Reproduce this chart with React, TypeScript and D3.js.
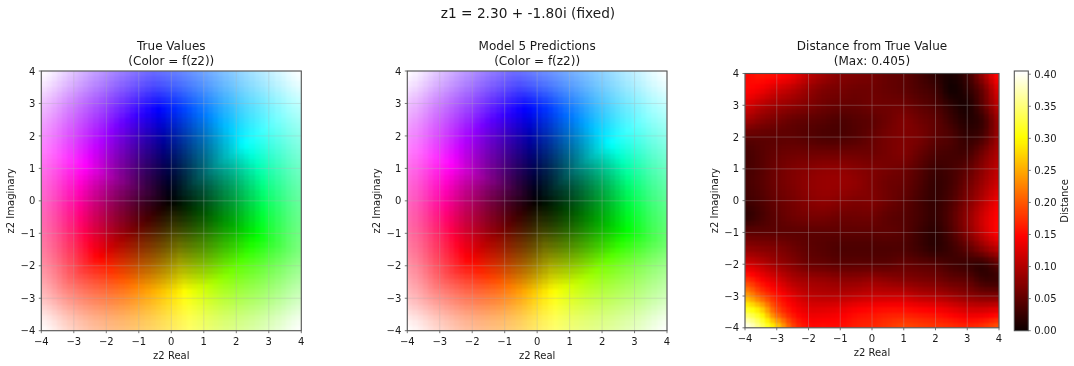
import { useMemo } from "react";
import * as d3 from "d3";

const width = 1074;
const height = 366;

const suptitle = "z1 = 2.30 + -1.80i (fixed)";
const axisTicks = [-4, -3, -2, -1, 0, 1, 2, 3, 4];
const colorbarTicks = [0, 0.05, 0.1, 0.15, 0.2, 0.25, 0.3, 0.35, 0.4];
const distanceMax = 0.405;

// hue in degrees, lightness 0-1, read at integer z2 points. rows y=4..-4, cols x=-4..4
const trueHue = [
  [277, 269, 259, 246, 232, 218, 205, 195, 187],
  [285, 277, 266, 250, 232, 214, 198, 187, 179],
  [295, 288, 277, 259, 232, 205, 187, 176, 169],
  [308, 304, 295, 277, 232, 187, 169, 160, 156],
  [322, 322, 322, 322, 232, 142, 142, 142, 142],
  [336, 340, 349, 7, 52, 97, 115, 124, 128],
  [349, 356, 7, 25, 52, 79, 97, 108, 115],
  [359, 7, 18, 34, 52, 70, 86, 97, 105],
  [7, 15, 25, 38, 52, 66, 79, 89, 97],
];
const trueLight = [
  [1.0, 0.88, 0.78, 0.72, 0.7, 0.72, 0.78, 0.88, 1.0],
  [0.88, 0.75, 0.64, 0.56, 0.53, 0.56, 0.64, 0.75, 0.88],
  [0.78, 0.64, 0.5, 0.38, 0.33, 0.38, 0.5, 0.64, 0.78],
  [0.72, 0.56, 0.38, 0.23, 0.15, 0.23, 0.38, 0.56, 0.72],
  [0.7, 0.53, 0.33, 0.15, 0.0, 0.15, 0.33, 0.53, 0.7],
  [0.72, 0.56, 0.38, 0.23, 0.15, 0.23, 0.38, 0.56, 0.72],
  [0.78, 0.64, 0.5, 0.38, 0.33, 0.38, 0.5, 0.64, 0.78],
  [0.88, 0.75, 0.64, 0.56, 0.53, 0.56, 0.64, 0.75, 0.88],
  [1.0, 0.88, 0.78, 0.72, 0.7, 0.72, 0.78, 0.88, 1.0],
];
const predHue = [
  [276, 268, 258, 245, 230, 216, 204, 194, 186],
  [284, 276, 265, 250, 233, 215, 199, 187, 180],
  [295, 288, 277, 260, 233, 206, 187, 176, 170],
  [309, 305, 296, 278, 233, 186, 166, 158, 155],
  [324, 323, 325, 326, 232, 139, 136, 138, 140],
  [338, 342, 350, 4, 50, 95, 112, 120, 125],
  [349, 355, 3, 19, 49, 74, 91, 101, 110],
  [357, 4, 13, 28, 50, 68, 81, 90, 100],
  [5, 12, 22, 35, 52, 66, 76, 84, 95],
];
const predLight = [
  [1.0, 0.88, 0.78, 0.72, 0.71, 0.73, 0.78, 0.88, 1.0],
  [0.88, 0.75, 0.64, 0.56, 0.53, 0.57, 0.65, 0.76, 0.89],
  [0.78, 0.64, 0.49, 0.38, 0.34, 0.39, 0.5, 0.64, 0.78],
  [0.72, 0.56, 0.38, 0.24, 0.16, 0.22, 0.37, 0.55, 0.71],
  [0.7, 0.53, 0.34, 0.16, 0.0, 0.14, 0.32, 0.52, 0.68],
  [0.72, 0.57, 0.39, 0.24, 0.14, 0.22, 0.37, 0.54, 0.69],
  [0.79, 0.65, 0.51, 0.39, 0.32, 0.38, 0.5, 0.64, 0.77],
  [0.88, 0.77, 0.66, 0.58, 0.53, 0.57, 0.65, 0.75, 0.87],
  [1.0, 0.9, 0.8, 0.74, 0.71, 0.74, 0.79, 0.88, 1.0],
];

// distance read at half-unit steps. rows y=4..-4, cols x=-4..4
const distance = [
  [0.15, 0.16, 0.155, 0.14, 0.11, 0.09, 0.075, 0.07, 0.065, 0.055, 0.05, 0.035, 0.02, 0.01, 0.03, 0.09, 0.155],
  [0.15, 0.14, 0.12, 0.105, 0.085, 0.07, 0.065, 0.06, 0.06, 0.055, 0.05, 0.04, 0.03, 0.005, 0.02, 0.06, 0.13],
  [0.125, 0.105, 0.09, 0.08, 0.07, 0.06, 0.055, 0.055, 0.06, 0.06, 0.06, 0.05, 0.04, 0.02, 0.01, 0.05, 0.11],
  [0.09, 0.075, 0.065, 0.055, 0.05, 0.045, 0.04, 0.045, 0.05, 0.06, 0.07, 0.06, 0.05, 0.03, 0.015, 0.03, 0.09],
  [0.05, 0.05, 0.05, 0.05, 0.045, 0.04, 0.04, 0.045, 0.055, 0.065, 0.07, 0.065, 0.05, 0.04, 0.025, 0.04, 0.09],
  [0.035, 0.045, 0.055, 0.06, 0.06, 0.06, 0.06, 0.06, 0.06, 0.065, 0.07, 0.055, 0.04, 0.035, 0.035, 0.065, 0.1],
  [0.035, 0.045, 0.06, 0.07, 0.075, 0.08, 0.08, 0.075, 0.07, 0.065, 0.06, 0.045, 0.03, 0.035, 0.05, 0.08, 0.11],
  [0.035, 0.045, 0.06, 0.07, 0.08, 0.085, 0.085, 0.08, 0.07, 0.06, 0.055, 0.04, 0.025, 0.035, 0.06, 0.09, 0.12],
  [0.03, 0.04, 0.055, 0.065, 0.075, 0.08, 0.075, 0.07, 0.07, 0.06, 0.05, 0.035, 0.025, 0.04, 0.07, 0.105, 0.14],
  [0.02, 0.035, 0.05, 0.06, 0.065, 0.065, 0.06, 0.06, 0.06, 0.05, 0.045, 0.035, 0.025, 0.045, 0.08, 0.12, 0.15],
  [0.05, 0.05, 0.05, 0.05, 0.05, 0.05, 0.05, 0.05, 0.05, 0.05, 0.045, 0.03, 0.02, 0.04, 0.075, 0.115, 0.15],
  [0.08, 0.075, 0.07, 0.06, 0.05, 0.045, 0.04, 0.04, 0.04, 0.04, 0.04, 0.03, 0.02, 0.03, 0.05, 0.08, 0.11],
  [0.125, 0.11, 0.09, 0.075, 0.06, 0.055, 0.05, 0.05, 0.05, 0.05, 0.055, 0.05, 0.045, 0.035, 0.03, 0.025, 0.05],
  [0.18, 0.15, 0.125, 0.1, 0.09, 0.085, 0.08, 0.08, 0.085, 0.08, 0.075, 0.07, 0.065, 0.055, 0.05, 0.03, 0.03],
  [0.25, 0.2, 0.16, 0.13, 0.11, 0.105, 0.105, 0.11, 0.115, 0.115, 0.115, 0.105, 0.1, 0.09, 0.08, 0.07, 0.07],
  [0.33, 0.29, 0.2, 0.155, 0.135, 0.135, 0.14, 0.15, 0.155, 0.16, 0.16, 0.155, 0.15, 0.14, 0.13, 0.13, 0.14],
  [0.405, 0.35, 0.28, 0.19, 0.155, 0.155, 0.155, 0.165, 0.17, 0.18, 0.19, 0.185, 0.18, 0.175, 0.17, 0.18, 0.2],
];

const CELLS = 50;
const FONT = "'DejaVu Sans', sans-serif";
const TEXT = "#1a1a1a";
const FRAME = "#555555";

// matplotlib "hot"
const hotScale = d3
  .scaleLinear<string>()
  .domain([0, 0.365, 0.746, 1].map((t) => t * distanceMax))
  .range(["#0b0000", "#ff0000", "#ffff00", "#ffffff"])
  .clamp(true);

// catmull-rom through one row/column of four values
const cubic = (a: number, b: number, c: number, d: number, t: number) =>
  b + 0.5 * t * (c - a + t * (2 * a - 5 * b + 4 * c - d + t * (3 * (b - c) + d - a)));

const sampleGrid = (grid: number[][], x: number, y: number) => {
  const n = grid.length - 1;
  const toCol = d3.scaleLinear().domain([-4, 4]).range([0, n]).clamp(true);
  const toRow = d3.scaleLinear().domain([4, -4]).range([0, n]).clamp(true);
  const cf = toCol(x);
  const rf = toRow(y);
  const c0 = Math.min(Math.floor(cf), n - 1);
  const r0 = Math.min(Math.floor(rf), n - 1);
  const at = (r: number, c: number) => grid[Math.max(0, Math.min(n, r))][Math.max(0, Math.min(n, c))];
  const rows = [-1, 0, 1, 2].map((dr) =>
    cubic(at(r0 + dr, c0 - 1), at(r0 + dr, c0), at(r0 + dr, c0 + 1), at(r0 + dr, c0 + 2), cf - c0)
  );
  return cubic(rows[0], rows[1], rows[2], rows[3], rf - r0);
};

// hue wraps, so interpolate as a vector and read hue back
const colorField = (hue: number[][], light: number[][]) => {
  const vx = hue.map((row, r) => row.map((h, c) => light[r][c] * Math.cos((h * Math.PI) / 180)));
  const vy = hue.map((row, r) => row.map((h, c) => light[r][c] * Math.sin((h * Math.PI) / 180)));
  return (x: number, y: number) => {
    const a = sampleGrid(vx, x, y);
    const b = sampleGrid(vy, x, y);
    const l = Math.min(1, Math.hypot(a, b));
    return d3.hsl((Math.atan2(b, a) * 180) / Math.PI, 1, l).formatHex();
  };
};

type Box = { left: number; right: number; top: number; bottom: number };

const Panel = ({
  id,
  box,
  title,
  color,
  yLabelX,
}: {
  id: string;
  box: Box;
  title: string[];
  color: (x: number, y: number) => string;
  yLabelX: number;
}) => {
  const xScale = d3.scaleLinear().domain([-4, 4]).range([box.left, box.right]);
  const yScale = d3.scaleLinear().domain([-4, 4]).range([box.bottom, box.top]);
  const fmt = xScale.tickFormat(9, "d");
  // two spare cells on each side so the blur does not fade at the frame
  const idx = d3.range(-2, CELLS + 2);
  const stepX = (box.right - box.left) / CELLS;
  const stepY = (box.bottom - box.top) / CELLS;
  const colBand = d3
    .scaleBand<number>()
    .domain(idx)
    .range([box.left - 2 * stepX, box.right + 2 * stepX]);
  const rowBand = d3
    .scaleBand<number>()
    .domain(idx)
    .range([box.top - 2 * stepY, box.bottom + 2 * stepY]);
  const cx = (i: number) => -4 + ((i + 0.5) * 8) / CELLS;

  const cells = useMemo(
    () =>
      idx.flatMap((r) =>
        idx.map((c) => (
          <rect
            key={`${r}-${c}`}
            x={colBand(c)}
            y={rowBand(r)}
            width={colBand.bandwidth() + 0.5}
            height={rowBand.bandwidth() + 0.5}
            fill={color(cx(c), -cx(r))}
            shapeRendering="crispEdges"
          />
        ))
      ),
    []
  );
  const midX = (box.left + box.right) / 2;
  const midY = (box.top + box.bottom) / 2;

  return (
    <g fontFamily={FONT} fill={TEXT}>
      <clipPath id={`clip-${id}`}>
        <rect x={box.left} y={box.top} width={box.right - box.left} height={box.bottom - box.top} />
      </clipPath>
      <g clipPath={`url(#clip-${id})`}>
        <g filter="url(#soften)">{cells}</g>
      </g>
      {axisTicks.map((t) => (
        <g key={t} stroke="#b0b0b0" strokeWidth={0.7} opacity={0.45}>
          <line x1={xScale(t)} x2={xScale(t)} y1={box.top} y2={box.bottom} />
          <line x1={box.left} x2={box.right} y1={yScale(t)} y2={yScale(t)} />
        </g>
      ))}
      <rect
        x={box.left}
        y={box.top}
        width={box.right - box.left}
        height={box.bottom - box.top}
        fill="none"
        stroke={FRAME}
        strokeWidth={1.1}
      />
      {axisTicks.map((t) => (
        <g key={t} fontSize={10}>
          <line x1={xScale(t)} x2={xScale(t)} y1={box.bottom} y2={box.bottom + 2.5} stroke={FRAME} strokeWidth={0.8} />
          <text x={xScale(t)} y={box.bottom + 14.5} textAnchor="middle">
            {fmt(t)}
          </text>
          <line x1={box.left - 2.5} x2={box.left} y1={yScale(t)} y2={yScale(t)} stroke={FRAME} strokeWidth={0.8} />
          <text x={box.left - 6} y={yScale(t) + 3.6} textAnchor="end">
            {fmt(t)}
          </text>
        </g>
      ))}
      <text x={midX} y={box.bottom + 28} textAnchor="middle" fontSize={10}>
        z2 Real
      </text>
      <text
        transform={`translate(${yLabelX},${midY}) rotate(-90)`}
        textAnchor="middle"
        fontSize={10}
      >
        z2 Imaginary
      </text>
      {title.map((line, i) => (
        <text key={i} x={midX} y={50 + i * 14.5} textAnchor="middle" fontSize={12}>
          {line}
        </text>
      ))}
    </g>
  );
};

const Colorbar = ({ box }: { box: Box }) => {
  const yScale = d3.scaleLinear().domain([0, distanceMax]).range([box.bottom, box.top]);
  const steps = d3.range(256).map((i) => ((i + 0.5) / 256) * distanceMax);
  const band = d3
    .scaleBand<number>()
    .domain(d3.range(256))
    .range([box.bottom, box.top]);
  return (
    <g fontFamily={FONT} fill={TEXT}>
      {steps.map((v, i) => (
        <rect
          key={i}
          x={box.left}
          y={band(i)}
          width={box.right - box.left}
          height={band.bandwidth() + 0.5}
          fill={hotScale(v)}
          shapeRendering="crispEdges"
        />
      ))}
      <rect
        x={box.left}
        y={box.top}
        width={box.right - box.left}
        height={box.bottom - box.top}
        fill="none"
        stroke={FRAME}
        strokeWidth={1.1}
      />
      {colorbarTicks.map((t) => (
        <g key={t} fontSize={10}>
          <line x1={box.right} x2={box.right + 2.5} y1={yScale(t)} y2={yScale(t)} stroke={FRAME} strokeWidth={0.8} />
          <text x={box.right + 6} y={yScale(t) + 3.6}>
            {d3.format(".2f")(t)}
          </text>
        </g>
      ))}
      <text
        transform={`translate(1068,${(box.top + box.bottom) / 2}) rotate(-90)`}
        textAnchor="middle"
        fontSize={10}
      >
        Distance
      </text>
    </g>
  );
};

const App = () => {
  const trueColor = useMemo(() => colorField(trueHue, trueLight), []);
  const predColor = useMemo(() => colorField(predHue, predLight), []);
  const distColor = (x: number, y: number) => hotScale(sampleGrid(distance, x, y));

  return (
    <svg
      width={width}
      height={height}
      style={{ position: "absolute", left: 0, top: 0, background: "#fff" }}
    >
      <defs>
        <filter id="soften" x="-5%" y="-5%" width="110%" height="110%" colorInterpolationFilters="sRGB">
          <feGaussianBlur stdDeviation={0.9} />
        </filter>
        <filter
          id="page"
          filterUnits="userSpaceOnUse"
          x={0}
          y={0}
          width={width}
          height={height}
          colorInterpolationFilters="sRGB"
        >
          <feGaussianBlur stdDeviation={0.35} />
        </filter>
      </defs>
      <g filter="url(#page)">
        <text x={528} y={18} textAnchor="middle" fontFamily={FONT} fontSize={13.7} fill={TEXT}>
          {suptitle}
        </text>
        <Panel
          id="true"
          box={{ left: 41.3, right: 301.3, top: 71, bottom: 330.7 }}
          title={["True Values", "(Color = f(z2))"]}
          color={trueColor}
          yLabelX={14}
        />
        <Panel
          id="pred"
          box={{ left: 407.3, right: 667, top: 71, bottom: 330.7 }}
          title={["Model 5 Predictions", "(Color = f(z2))"]}
          color={predColor}
          yLabelX={380}
        />
        <Panel
          id="dist"
          box={{ left: 745, right: 999, top: 73.5, bottom: 327.8 }}
          title={["Distance from True Value", "(Max: 0.405)"]}
          color={distColor}
          yLabelX={718}
        />
        <Colorbar box={{ left: 1014.3, right: 1028.3, top: 71, bottom: 330.7 }} />
      </g>
    </svg>
  );
};

export default App;
